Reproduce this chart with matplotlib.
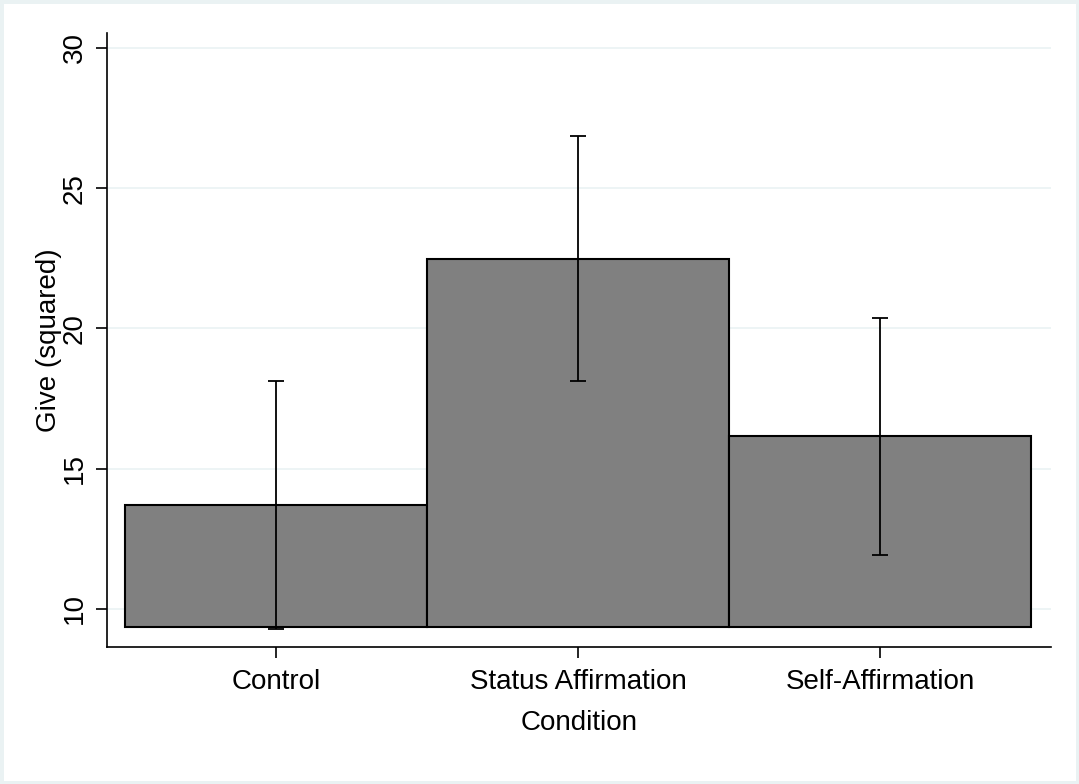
import matplotlib.pyplot as plt
import numpy as np

plt.rcParams['font.family'] = ['Liberation Sans', 'DejaVu Sans']

conditions = ['Control', 'Status Affirmation', 'Self-Affirmation']
means = [13.71, 22.48, 16.17]
ci_low = [9.29, 18.13, 11.93]
ci_high = [18.13, 26.86, 20.37]
base = 9.36
yticks = [10, 15, 20, 25, 30]

x = np.arange(1, len(conditions) + 1)
means = np.array(means)
yerr = [means - np.array(ci_low), np.array(ci_high) - means]

fig = plt.figure(figsize=(10.79, 7.84), dpi=100)
fig.patch.set_facecolor('white')
fig.patch.set_edgecolor('#eaf2f3')
fig.patch.set_linewidth(5)
ax = fig.add_axes([107 / 1079, 1 - 647 / 784, (1051 - 107) / 1079, (647 - 33) / 784])

for yv in yticks:
    ax.axhline(yv, color='#eaf2f3', linewidth=1.2, zorder=0)

ax.bar(x, means - base, bottom=base, width=1.0, color='#808080',
       edgecolor='black', linewidth=1.5, zorder=2)
ax.errorbar(x, means, yerr=yerr, fmt='none', ecolor='black', elinewidth=1.3,
            capsize=6, capthick=1.3, zorder=3)

ax.set_xlim(0.44, 3.566)
ax.set_ylim(8.645, 30.53)
ax.set_yticks(yticks)
ax.set_yticklabels([str(v) for v in yticks], rotation=90, va='center')
ax.set_xticks(x)
ax.set_xticklabels(conditions)
ax.tick_params(axis='both', direction='out', length=8, width=1.2, labelsize=20,
               colors='black')
ax.tick_params(axis='y', pad=6)
ax.tick_params(axis='x', pad=8)
ax.spines['top'].set_visible(False)
ax.spines['right'].set_visible(False)
for s in ['left', 'bottom']:
    ax.spines[s].set_linewidth(1.2)
ax.set_ylabel('Give (squared)', fontsize=20, labelpad=0)
ax.set_xlabel('Condition', fontsize=20, labelpad=11)

fig.savefig('out.png', dpi=100, facecolor=fig.get_facecolor(), edgecolor=fig.get_edgecolor())
